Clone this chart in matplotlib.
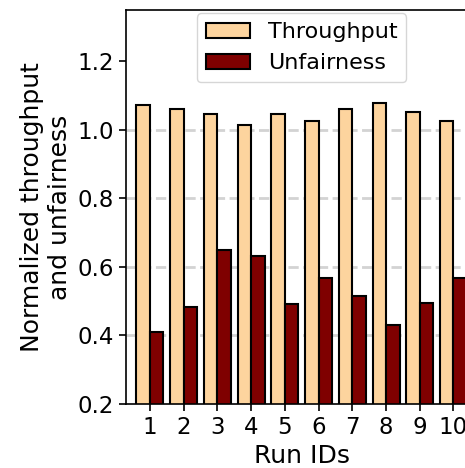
import matplotlib
matplotlib.use('Agg')
import matplotlib.pyplot as plt
import numpy as np

runs = [1, 2, 3, 4, 5, 6, 7, 8, 9, 10]
throughput = [1.074, 1.062, 1.045, 1.013, 1.045, 1.025, 1.062, 1.078, 1.052, 1.025]
unfairness = [0.409, 0.483, 0.650, 0.633, 0.492, 0.567, 0.515, 0.430, 0.494, 0.567]
grid_vals = [0.4, 0.6, 0.8, 1.0]
yticks = [0.2, 0.4, 0.6, 0.8, 1.0, 1.2]

fig = plt.figure(figsize=(4.65, 4.68), dpi=100)
# axes runs past the right edge, like the cropped original
ax = fig.add_axes([0.271, 0.1368, 0.755, 0.8419])

x = np.array(runs)
w = 0.4
for g in grid_vals:
    ax.axhline(g, color='#d3d3d3', ls='--', lw=2, zorder=0)

ax.bar(x - w/2, throughput, w, bottom=0, color='#fdd49e', edgecolor='black',
       lw=1.5, label='Throughput', zorder=2)
ax.bar(x + w/2, unfairness, w, bottom=0, color='#7f0000', edgecolor='black',
       lw=1.5, label='Unfairness', zorder=2)

ax.set_ylim(0.2, 1.35)
ax.set_xlim(0.29, 10.7)
ax.set_yticks(yticks)
ax.set_xticks(runs)
ax.tick_params(labelsize=16.5, width=1.2, length=5)
ax.set_xlabel('Run IDs', fontsize=18)
ax.set_ylabel('Normalized throughput\nand unfairness', fontsize=18)
for s in ax.spines.values():
    s.set_linewidth(1.2)

ax.legend(loc='upper center', bbox_to_anchor=(0.5, 1.0), fontsize=16,
          handlelength=2.0, borderaxespad=0.15)

fig.savefig('out.png', dpi=100)
